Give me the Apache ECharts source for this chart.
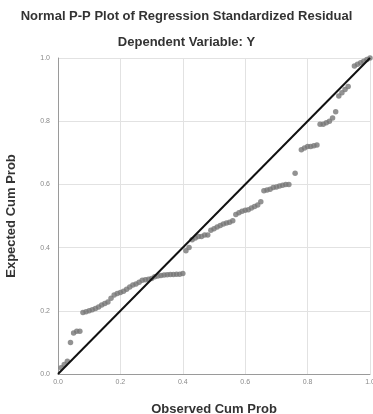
<!DOCTYPE html>
<html><head><meta charset="utf-8">
<script src="https://cdn.jsdelivr.net/npm/echarts@6/dist/echarts.min.js"></script>
<style>html,body{margin:0;padding:0;background:#fff}#c{width:373px;height:414px}</style>
</head><body><div id="c"></div>
<script>
const titleText = "Normal P-P Plot of Regression Standardized Residual";
const subtitleText = "Dependent Variable: Y";
const xAxisName = "Observed Cum Prob";
const yAxisName = "Expected Cum Prob";
const observed = [0.01,0.02,0.03,0.04,0.05,0.06,0.07,0.08,0.09,0.10,0.11,0.12,0.13,0.14,0.15,0.16,0.17,0.18,0.19,0.20,0.21,0.22,0.23,0.24,0.25,0.26,0.27,0.28,0.29,0.30,0.31,0.32,0.33,0.34,0.35,0.36,0.37,0.38,0.39,0.40,0.41,0.42,0.43,0.44,0.45,0.46,0.47,0.48,0.49,0.50,0.51,0.52,0.53,0.54,0.55,0.56,0.57,0.58,0.59,0.60,0.61,0.62,0.63,0.64,0.65,0.66,0.67,0.68,0.69,0.70,0.71,0.72,0.73,0.74,0.76,0.78,0.79,0.80,0.81,0.82,0.83,0.84,0.85,0.86,0.87,0.88,0.89,0.90,0.91,0.92,0.93,0.95,0.96,0.97,0.98,0.99,1.00];
const expected = [0.02,0.03,0.04,0.10,0.13,0.135,0.135,0.195,0.197,0.20,0.203,0.207,0.212,0.218,0.223,0.228,0.24,0.25,0.255,0.258,0.262,0.268,0.275,0.282,0.285,0.29,0.297,0.298,0.30,0.302,0.308,0.31,0.312,0.313,0.314,0.315,0.315,0.316,0.316,0.318,0.39,0.40,0.425,0.43,0.435,0.435,0.44,0.44,0.455,0.46,0.465,0.47,0.475,0.478,0.48,0.485,0.505,0.51,0.515,0.518,0.52,0.525,0.53,0.535,0.545,0.58,0.582,0.585,0.59,0.592,0.595,0.597,0.60,0.60,0.635,0.71,0.715,0.72,0.72,0.722,0.725,0.79,0.79,0.795,0.80,0.81,0.83,0.88,0.89,0.90,0.91,0.975,0.98,0.985,0.99,0.995,1.00];
const refLine = [[0,0],[1,1]];
const tickLabels = ["0.0","0.2","0.4","0.6","0.8","1.0"];

const pts = observed.map((x,i)=>[x,expected[i]]);
const chart = echarts.init(document.getElementById('c'));
const font = {fontFamily:'Liberation Sans',fontSize:13,fontWeight:'bold',color:'#333'};
const axisCommon = {
  type:'value', min:0, max:1, interval:0.2,
  axisLine:{show:true,lineStyle:{color:'#9a9a9a',width:1}},
  axisTick:{show:false},
  splitLine:{show:true,lineStyle:{color:'#e2e2e2',width:1}},
  axisLabel:{color:'#8a8a8a',fontSize:7,fontFamily:'Liberation Sans',
    formatter:v=>tickLabels[Math.round(v/0.2)]}
};
chart.setOption({
  animation:false,
  title:[
    {text:titleText,left:'center',top:5,textStyle:font},
    {text:subtitleText,left:'center',top:31,textStyle:font}
  ],
  grid:{left:58,right:3,top:58,bottom:40,containLabel:false,outerBoundsMode:'none'},
  xAxis:Object.assign({},axisCommon,{name:xAxisName,nameLocation:'middle',nameGap:29,
    nameTextStyle:font,
    axisLabel:Object.assign({},axisCommon.axisLabel,{margin:5,showMaxLabel:true})}),
  yAxis:Object.assign({},axisCommon,{name:yAxisName,nameLocation:'middle',nameGap:40,
    nameTextStyle:font,
    axisLabel:Object.assign({},axisCommon.axisLabel,{margin:8})}),
  series:[
    {type:'scatter',data:pts,symbol:'circle',symbolSize:5.5,itemStyle:{color:'#777'},z:2},
    {type:'line',data:refLine,symbol:'none',lineStyle:{color:'#111',width:2},z:3}
  ]
});
</script></body></html>
